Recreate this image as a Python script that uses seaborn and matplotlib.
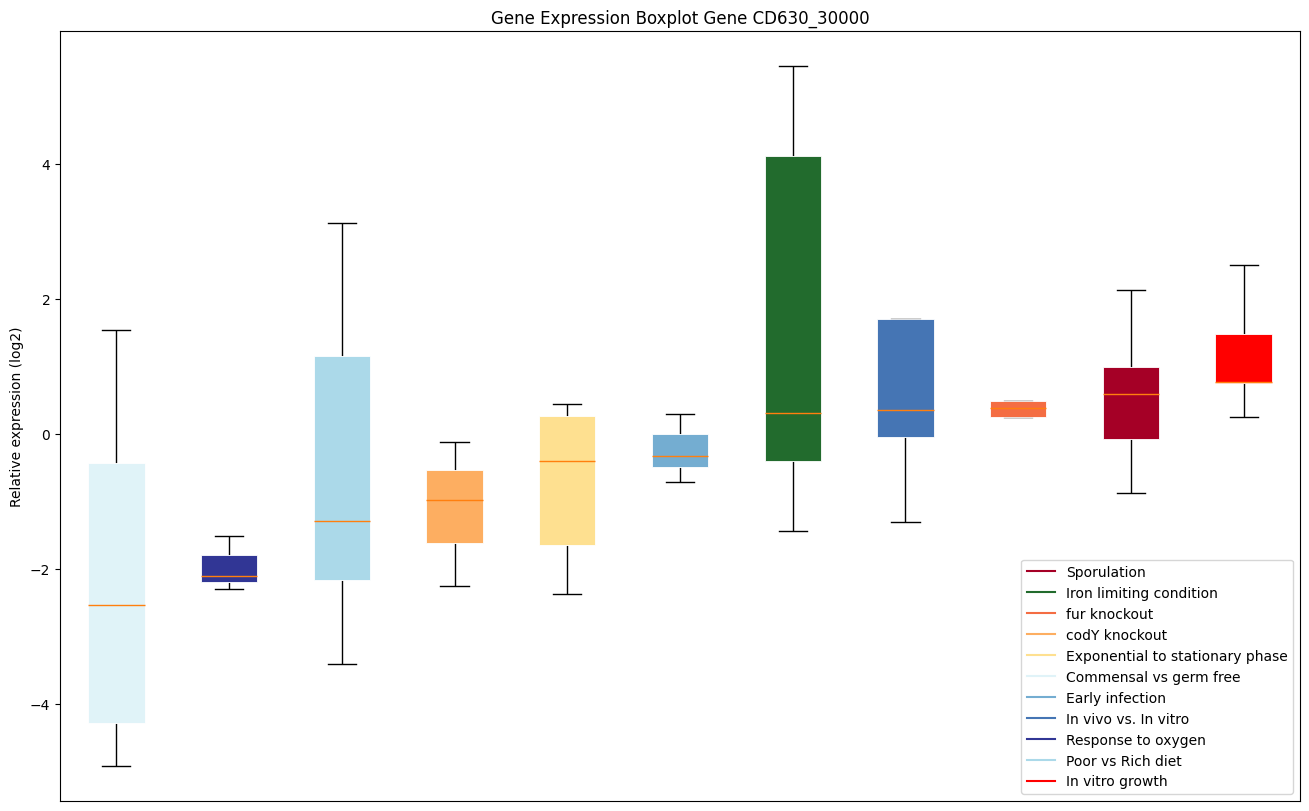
import pandas as pd
import seaborn as sns
from matplotlib import pyplot as plt
from matplotlib.lines import Line2D

# boxes in plotting order, each given as [lower whisker, Q1, median, Q3, upper whisker]
groups = ['Commensal vs germ free', 'Response to oxygen', 'Poor vs Rich diet',
          'codY knockout', 'Exponential to stationary phase', 'Early infection',
          'Iron limiting condition', 'In vivo vs. In vitro', 'fur knockout',
          'Sporulation', 'In vitro growth']
commensal = [-4.92, -4.29, -2.53, -0.43, 1.54]
oxygen = [-2.30, -2.20, -2.11, -1.80, -1.52]
diet = [-3.41, -2.16, -1.29, 1.16, 3.13]
cody = [-2.26, -1.62, -0.98, -0.54, -0.12]
stationary = [-2.37, -1.64, -0.40, 0.27, 0.44]
early = [-0.72, -0.49, -0.33, 0.00, 0.30]
iron = [-1.44, -0.40, 0.31, 4.12, 5.45]
invivo = [-1.31, -0.05, 0.35, 1.70, 1.70]
fur = [0.25, 0.25, 0.38, 0.49, 0.49]
sporulation = [-0.88, -0.08, 0.59, 0.99, 2.13]
growth = [0.25, 0.75, 0.77, 1.48, 2.50]
values = [commensal, oxygen, diet, cody, stationary, early, iron, invivo, fur,
          sporulation, growth]

legend_order = ['Sporulation', 'Iron limiting condition', 'fur knockout', 'codY knockout',
                'Exponential to stationary phase', 'Commensal vs germ free', 'Early infection',
                'In vivo vs. In vitro', 'Response to oxygen', 'Poor vs Rich diet',
                'In vitro growth']
colors = {'Sporulation': '#a50026', 'Iron limiting condition': '#226b2d',
          'fur knockout': '#f46d43', 'codY knockout': '#fdae61',
          'Exponential to stationary phase': '#fee090', 'Commensal vs germ free': '#e0f3f8',
          'Early infection': '#74add1', 'In vivo vs. In vitro': '#4575b4',
          'Response to oxygen': '#313695', 'Poor vs Rich diet': '#abd9e9',
          'In vitro growth': '#ff0000'}

data = pd.DataFrame([(g, v) for g, vals in zip(groups, values) for v in vals],
                    columns=['group', 'value'])

fig, ax = plt.subplots(figsize=(13.09, 8.12), dpi=100)
fig.subplots_adjust(left=60 / 1309, right=1300 / 1309, top=1 - 32 / 812, bottom=1 - 802 / 812)

sns.boxplot(data=data, x='group', y='value', hue='group', order=groups, hue_order=groups,
            palette=colors, saturation=1, width=0.5, whis=(0, 100), legend=False, ax=ax,
            boxprops=dict(edgecolor='white', linewidth=0.6, zorder=2),
            medianprops=dict(color='#ff7f0e', linewidth=1, zorder=3),
            whiskerprops=dict(color='black', linewidth=1, zorder=1),
            capprops=dict(color='black', linewidth=1, zorder=1))

ax.set_xlim(-0.5, len(groups) - 0.5)
ax.set_ylim(-5.44, 5.97)
ax.set_xticks([])
ax.set_xlabel('')
ax.set_ylabel('Relative expression (log2)')
ax.set_title('Gene Expression Boxplot Gene CD630_30000')

handles = [Line2D([0], [0], color=colors[g], lw=1.5) for g in legend_order]
ax.legend(handles, legend_order, loc='lower right')

plt.savefig('out.png', dpi=100)
